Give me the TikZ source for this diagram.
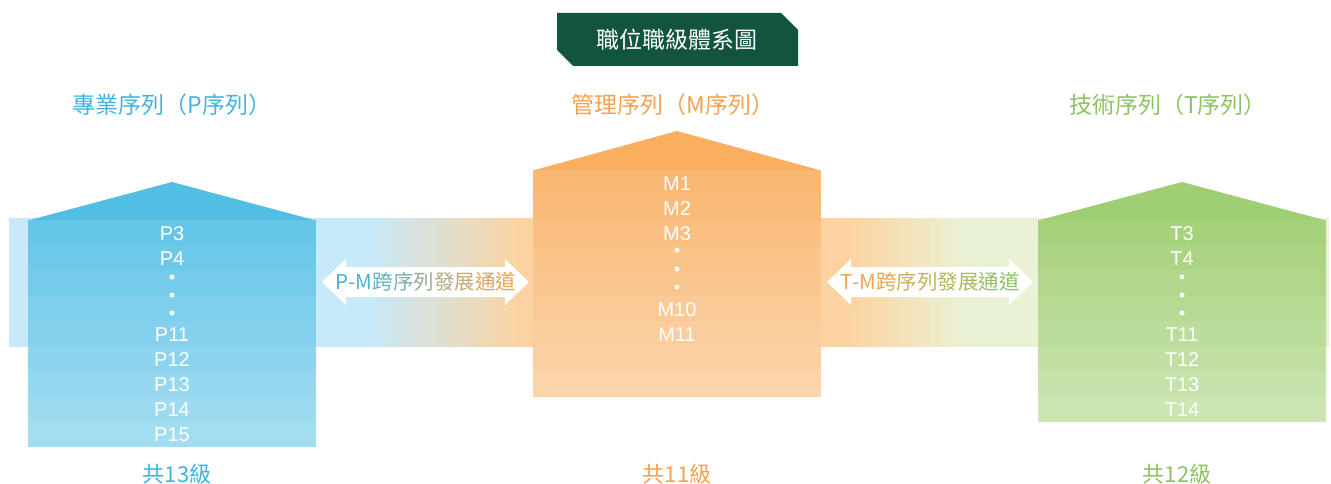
\documentclass[tikz,border=0pt]{standalone}
\usepackage{fontspec}
\setmainfont{Liberation Sans}
\newfontfamily\cjk{Noto Sans CJK TC}
\usepackage{tikz}
\usetikzlibrary{positioning,calc}
\definecolor{titleGreen}{HTML}{12543F}
\definecolor{pBlue}{HTML}{3FB4E0}
\definecolor{pRoof}{HTML}{52BEE3}
\definecolor{pRow}{HTML}{66C6E8}
\definecolor{pBand}{HTML}{C7E9F9}
\definecolor{mOrange}{HTML}{F4A24E}
\definecolor{mRoof}{HTML}{F9AF5E}
\definecolor{mRow}{HTML}{F9B873}
\definecolor{mBand}{HTML}{FCD3A0}
\definecolor{tGreen}{HTML}{8CC461}
\definecolor{tRoof}{HTML}{A0CF73}
\definecolor{tRow}{HTML}{A6D27C}
\definecolor{tBand}{HTML}{EAF2D5}

\begin{document}
\begin{tikzpicture}[x=1pt,y=-1pt,
    rowlabel/.style={text=white,font=\fontsize{20}{20}\selectfont,inner sep=0pt},
    heading/.style={font=\cjk\fontsize{23}{23}\selectfont,inner sep=0pt},
    countlabel/.style={font=\cjk\fontsize{22}{22}\selectfont,inner sep=0pt},
    devtext/.style={font=\cjk\fontsize{20.5}{20.5}\selectfont,inner sep=0pt}]
  \useasboundingbox (0,0) rectangle (1331,484);
  % title
  \fill[titleGreen] (557,13) -- (781,13) -- (798,30) -- (798,66) -- (573,66) -- (557,50) -- cycle;
  \node[text=white,font=\cjk\fontsize{23}{23}\selectfont,inner sep=0pt] (title) at (677,40) {職位職級體系圖};
  % band behind the columns
  \fill[pBand] (9,218) rectangle (371,347);
  \foreach \k in {0,...,49}{
    \pgfmathtruncatemacro\pct{100-2*\k}
    \fill[pBand!\pct!mBand] ({370+3*\k},218) rectangle ({373.6+3*\k},347);
  }
  \fill[mBand] (519,218) rectangle (846,347);
  \foreach \k in {0,...,39}{
    \pgfmathtruncatemacro\pct{100-2.5*\k}
    \fill[mBand!\pct!tBand] ({845+3*\k},218) rectangle ({848.6+3*\k},347);
  }
  \fill[tBand] (964,218) rectangle (1329,347);
  % P column
  \fill[pRoof] (28,220.5) -- (172,182) -- (316,220.5) -- cycle;
  \foreach \i in {0,...,8}{
    \pgfmathtruncatemacro\pct{100-5*\i}
    \fill[pRow!\pct!white] (28,{220+25.2*\i}) rectangle (316,{245.3+25.2*\i});
  }
  \foreach \name/\r in {P3/0,P4/1,P11/4,P12/5,P13/6,P14/7,P15/8}
    \node[rowlabel] (\name) at (172,{233.6+25.2*\r}) {\name};
  \foreach \y in {277,295,313} \fill[white] (172,\y) circle (2.5);
  \node[heading,text=pBlue] (phead) at (172,105) {專業序列（P序列）};
  \node[countlabel,text=pBlue] (pcount) at (177,474) {共13級};
  % M column
  \fill[mRoof] (533,170.5) -- (677,131) -- (821,170.5) -- cycle;
  \foreach \i in {0,...,8}{
    \pgfmathtruncatemacro\pct{100-5*\i}
    \fill[mRow!\pct!white] (533,{170+25.2*\i}) rectangle (821,{195.3+25.2*\i});
  }
  \foreach \name/\r in {M1/0,M2/1,M3/2,M10/5,M11/6}
    \node[rowlabel] (\name) at (677,{183.6+25.2*\r}) {\name};
  \foreach \y in {250,269,287} \fill[white] (677,\y) circle (2.5);
  \node[heading,text=mOrange] (mhead) at (673,105) {管理序列（M序列）};
  \node[countlabel,text=mOrange] (mcount) at (677,474) {共11級};
  % T column
  \fill[tRoof] (1038,220.5) -- (1182,182) -- (1326,220.5) -- cycle;
  \foreach \i in {0,...,7}{
    \pgfmathtruncatemacro\pct{100-6*\i}
    \fill[tRow!\pct!white] (1038,{220+25.2*\i}) rectangle (1326,{245.3+25.2*\i});
  }
  \foreach \name/\r in {T3/0,T4/1,T11/4,T12/5,T13/6,T14/7}
    \node[rowlabel] (\name) at (1182,{233.6+25.2*\r}) {\name};
  \foreach \y in {277,295,313} \fill[white] (1182,\y) circle (2.5);
  \node[heading,text=tGreen] (thead) at (1168,105) {技術序列（T序列）};
  \node[countlabel,text=tGreen] (tcount) at (1177,474) {共12級};
  % P-M channel
  \fill[white] (322,282) -- (346,259) -- (346,267) -- (505,267) -- (505,259) -- (529,282)
    -- (505,305) -- (505,297) -- (346,297) -- (346,305) -- cycle;
  \node[devtext] (pm) at (426,282) {\textcolor{pBlue}{P}\textcolor{pBlue}{-}\textcolor{pBlue!95!mOrange}{M}\textcolor{pBlue!80!mOrange}{跨}\textcolor{pBlue!65!mOrange}{序}\textcolor{pBlue!50!mOrange}{列}\textcolor{pBlue!38!mOrange}{發}\textcolor{pBlue!25!mOrange}{展}\textcolor{pBlue!12!mOrange}{通}\textcolor{mOrange}{道}};
  % T-M channel
  \fill[white] (827,282) -- (851,259) -- (851,267) -- (1009,267) -- (1009,259) -- (1033,282)
    -- (1009,305) -- (1009,297) -- (851,297) -- (851,305) -- cycle;
  \node[devtext] (tm) at (930,282) {\textcolor{mOrange}{T}\textcolor{mOrange}{-}\textcolor{mOrange!95!tGreen}{M}\textcolor{mOrange!80!tGreen}{跨}\textcolor{mOrange!65!tGreen}{序}\textcolor{mOrange!50!tGreen}{列}\textcolor{mOrange!38!tGreen}{發}\textcolor{mOrange!25!tGreen}{展}\textcolor{mOrange!12!tGreen}{通}\textcolor{tGreen}{道}};
\end{tikzpicture}
\end{document}
